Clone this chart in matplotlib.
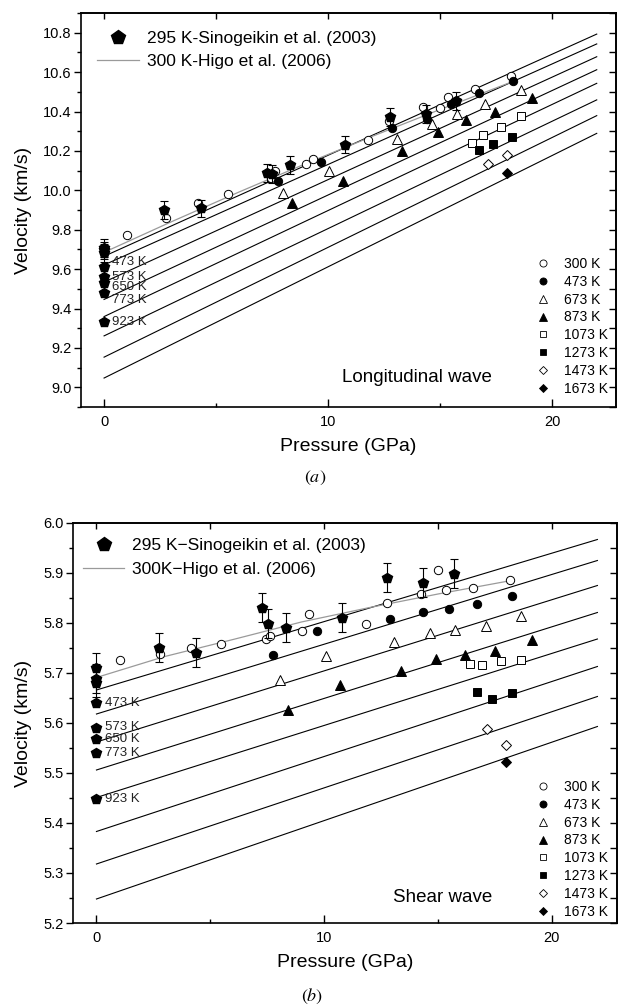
import numpy as np
import matplotlib
matplotlib.use("Agg")
import matplotlib.pyplot as plt
from matplotlib.lines import Line2D
from matplotlib.ticker import MultipleLocator

plt.rcParams['font.family'] = ['Liberation Sans', 'DejaVu Sans']
plt.rcParams['mathtext.fontset'] = 'stix'

temps = ['300 K', '473 K', '673 K', '873 K', '1073 K', '1273 K', '1473 K', '1673 K']
markers = ['o', 'o', '^', '^', 's', 's', 'D', 'D']
filled = [False, True, False, True, False, True, False, True]
msizes = [6, 6, 6.5, 6.5, 5.5, 5.5, 5, 5]

# fitted lines: velocity at 0 GPa and at 22 GPa, one per temperature
fit_p = [0.0, 22.0]
vp_fit0 = [9.665, 9.621, 9.534, 9.446, 9.359, 9.261, 9.153, 9.047]
vp_fit22 = [10.793, 10.743, 10.678, 10.612, 10.543, 10.459, 10.379, 10.289]
vs_fit0 = [5.666, 5.618, 5.562, 5.506, 5.451, 5.383, 5.318, 5.248]
vs_fit22 = [5.967, 5.925, 5.875, 5.821, 5.768, 5.713, 5.653, 5.593]

# Higo et al. (2006) 300 K curve
higo_vp_p = [0, 3, 6, 9, 12, 15, 18.2]
higo_vp_v = [9.685, 9.84, 9.99, 10.135, 10.275, 10.41, 10.55]
higo_vs_p = [0, 3, 6, 9, 12, 15, 18.1]
higo_vs_v = [5.691, 5.733, 5.767, 5.802, 5.831, 5.858, 5.884]

# measured points per temperature
vp_p = [
    [1.01, 2.75, 4.18, 5.52, 7.45, 7.62, 9.02, 9.32, 11.8, 12.72, 14.26, 15.0, 15.37, 16.56, 18.15],
    [7.78, 9.67, 12.84, 14.4, 15.47, 16.75, 18.28],
    [8.0, 10.06, 13.07, 14.63, 15.74, 17.0, 18.6],
    [8.38, 10.68, 13.29, 14.9, 16.16, 17.46, 19.12],
    [16.41, 16.93, 17.72, 18.6],
    [16.75, 17.38, 18.23],
    [17.13, 18.0],
    [17.98],
]
vp_v = [
    [9.773, 9.857, 9.933, 9.979, 10.06, 10.10, 10.135, 10.161, 10.257, 10.35, 10.422, 10.419, 10.473, 10.515, 10.582],
    [10.047, 10.144, 10.318, 10.363, 10.436, 10.495, 10.557],
    [9.987, 10.10, 10.258, 10.338, 10.388, 10.439, 10.51],
    [9.933, 10.047, 10.2, 10.296, 10.355, 10.397, 10.47],
    [10.24, 10.279, 10.321, 10.375],
    [10.203, 10.233, 10.27],
    [10.135, 10.178],
    [10.09],
]
vs_p = [
    [1.03, 2.78, 4.16, 5.48, 7.43, 7.64, 9.04, 9.33, 11.82, 12.75, 14.24, 15.02, 15.37, 16.54, 18.17],
    [7.77, 9.67, 12.88, 14.36, 15.49, 16.73, 18.27],
    [8.06, 10.09, 13.07, 14.65, 15.75, 17.1, 18.64],
    [8.4, 10.68, 13.36, 14.9, 16.18, 17.5, 19.12],
    [16.4, 16.95, 17.76, 18.64],
    [16.73, 17.39, 18.23],
    [17.13, 17.98],
    [17.98],
]
vs_v = [
    [5.726, 5.739, 5.751, 5.758, 5.769, 5.775, 5.784, 5.818, 5.799, 5.841, 5.859, 5.906, 5.866, 5.871, 5.887],
    [5.736, 5.784, 5.808, 5.823, 5.828, 5.839, 5.854],
    [5.686, 5.734, 5.763, 5.781, 5.786, 5.794, 5.814],
    [5.626, 5.676, 5.704, 5.728, 5.737, 5.744, 5.766],
    [5.719, 5.717, 5.725, 5.726],
    [5.663, 5.649, 5.661],
    [5.589, 5.557],
    [5.523],
]

# Sinogeikin et al. (2003), 295 K
sino_vp_p = [0, 0, 0, 2.69, 4.33, 7.26, 7.48, 8.3, 10.76, 12.77, 14.36, 15.71]
sino_vp_v = [9.707, 9.695, 9.683, 9.90, 9.908, 10.088, 10.081, 10.127, 10.232, 10.371, 10.388, 10.452]
sino_vp_err = 0.045
sino_vs_p = [0, 0, 0, 2.74, 4.35, 7.28, 7.53, 8.34, 10.8, 12.78, 14.36, 15.71]
sino_vs_v = [5.711, 5.689, 5.681, 5.751, 5.741, 5.831, 5.799, 5.791, 5.811, 5.891, 5.881, 5.899]
sino_vs_err = 0.029

# Sinogeikin et al. high temperature points at ambient pressure
hot_labels = ['473 K', '573 K', '650 K', '773 K', '923 K']
hot_vp = [9.609, 9.561, 9.528, 9.48, 9.334]
hot_vs = [5.641, 5.591, 5.569, 5.541, 5.449]


fig = plt.figure(figsize=(6.18, 10.08), dpi=100)
ax1 = fig.add_axes([81 / 618, 1 - 407 / 1008, 535 / 618, 394 / 1008])
ax2 = fig.add_axes([73 / 618, 1 - 923 / 1008, 544 / 618, 400 / 1008])


def draw_panel(ax, fit0, fit22, higo_p, higo_v, pp, vv, sp, sv, serr, hot, label_dy,
               legend_names, wave, wave_xy, ylim, ymaj, ymin, leg1_anchor, leg2_anchor):
    for a, b in zip(fit0, fit22):
        ax.plot(fit_p, [a, b], color='black', lw=0.8, zorder=1)
    ax.plot(higo_p, higo_v, color='#9a9a9a', lw=0.9, zorder=2)

    for i in range(len(temps)):
        ax.plot(pp[i], vv[i], ls='none', marker=markers[i], ms=msizes[i],
                mfc='black' if filled[i] else 'white', mec='black', mew=0.7, zorder=4)

    ax.errorbar(sp, sv, yerr=serr, fmt='p', ms=7, color='black', ecolor='black',
                elinewidth=0.8, capsize=3, capthick=0.8, zorder=5)
    ax.plot([0] * len(hot), hot, ls='none', marker='p', ms=7, color='black', zorder=5)
    for lab, v, dy in zip(hot_labels, hot, label_dy):
        ax.annotate(lab, (0, v), xytext=(6, dy), textcoords='offset points',
                    fontsize=9.5, va='center', ha='left', color='#222222', zorder=6)

    h1 = [Line2D([], [], ls='none', marker='p', ms=10.5, color='black'),
          Line2D([], [], color='#9a9a9a', lw=0.9)]
    leg1 = ax.legend(h1, legend_names, loc='upper left', bbox_to_anchor=leg1_anchor,
                     frameon=False, fontsize=12.5, handlelength=2.4, handletextpad=0.45,
                     labelspacing=0.48, borderpad=0, borderaxespad=0)
    ax.add_artist(leg1)

    h2 = [Line2D([], [], ls='none', marker=markers[i], ms=msizes[i] * 0.85,
                 mfc='black' if filled[i] else 'white', mec='black', mew=0.6)
          for i in range(len(temps))]
    ax.legend(h2, temps, loc='lower right', bbox_to_anchor=leg2_anchor, frameon=False,
              fontsize=10, handlelength=1.0, handletextpad=1.0, labelspacing=0.28,
              borderpad=0, borderaxespad=0)

    ax.text(wave_xy[0], wave_xy[1], wave, transform=ax.transAxes, fontsize=13.5,
            ha='left', va='center')

    ax.set_xlim(-1.03, 22.86)
    ax.set_ylim(*ylim)
    ax.xaxis.set_major_locator(MultipleLocator(10))
    ax.xaxis.set_minor_locator(MultipleLocator(5))
    ax.yaxis.set_major_locator(MultipleLocator(ymaj))
    ax.yaxis.set_minor_locator(MultipleLocator(ymin))
    ax.tick_params(axis='x', which='major', direction='in', length=6, width=1, labelsize=10.5, pad=6)
    ax.tick_params(axis='x', which='minor', direction='in', length=3, width=1)
    ax.tick_params(axis='y', which='major', direction='out', length=5, width=1, labelsize=10.5, pad=2)
    ax.tick_params(axis='y', which='minor', direction='out', length=3, width=1)
    for s in ax.spines.values():
        s.set_linewidth(1.2)

    top = ax.secondary_xaxis('top')
    top.xaxis.set_major_locator(MultipleLocator(5))
    top.tick_params(direction='in', length=4.5, width=1, labeltop=False)
    top.spines['top'].set_linewidth(1.2)
    right = ax.secondary_yaxis('right')
    right.yaxis.set_major_locator(MultipleLocator(ymin))
    right.tick_params(direction='in', length=5, width=1, labelright=False)
    right.spines['right'].set_linewidth(1.2)

    ax.set_xlabel('Pressure (GPa)', fontsize=14, labelpad=6)
    ax.set_ylabel('Velocity (km/s)', fontsize=14, labelpad=8)


draw_panel(ax1, vp_fit0, vp_fit22, higo_vp_p, higo_vp_v, vp_p, vp_v,
           sino_vp_p, sino_vp_v, sino_vp_err, hot_vp, [4, 0, -3, -5, 0],
           ['295 K-Sinogeikin et al. (2003)', '300 K-Higo et al. (2006)'],
           'Longitudinal wave', (0.488, 0.076), (8.9, 10.9), 0.2, 0.1,
           (0.030, 0.955), (0.985, 0.028))
draw_panel(ax2, vs_fit0, vs_fit22, higo_vs_p, higo_vs_v, vs_p, vs_v,
           sino_vs_p, sino_vs_v, sino_vs_err, hot_vs, [0, 0, 0, 0, 0],
           ['295 K\u2212Sinogeikin et al. (2003)', '300K\u2212Higo et al. (2006)'],
           'Shear wave', (0.588, 0.0625), (5.2, 6.0), 0.1, 0.05,
           (0.018, 0.962), (0.983, 0.01))

fig.text(0.51, 1 - 478 / 1008, r'$(a)$', fontsize=13, ha='center', va='center')
fig.text(0.505, 1 - 996 / 1008, r'$(b)$', fontsize=13, ha='center', va='center')

fig.savefig('out.png', dpi=100)
